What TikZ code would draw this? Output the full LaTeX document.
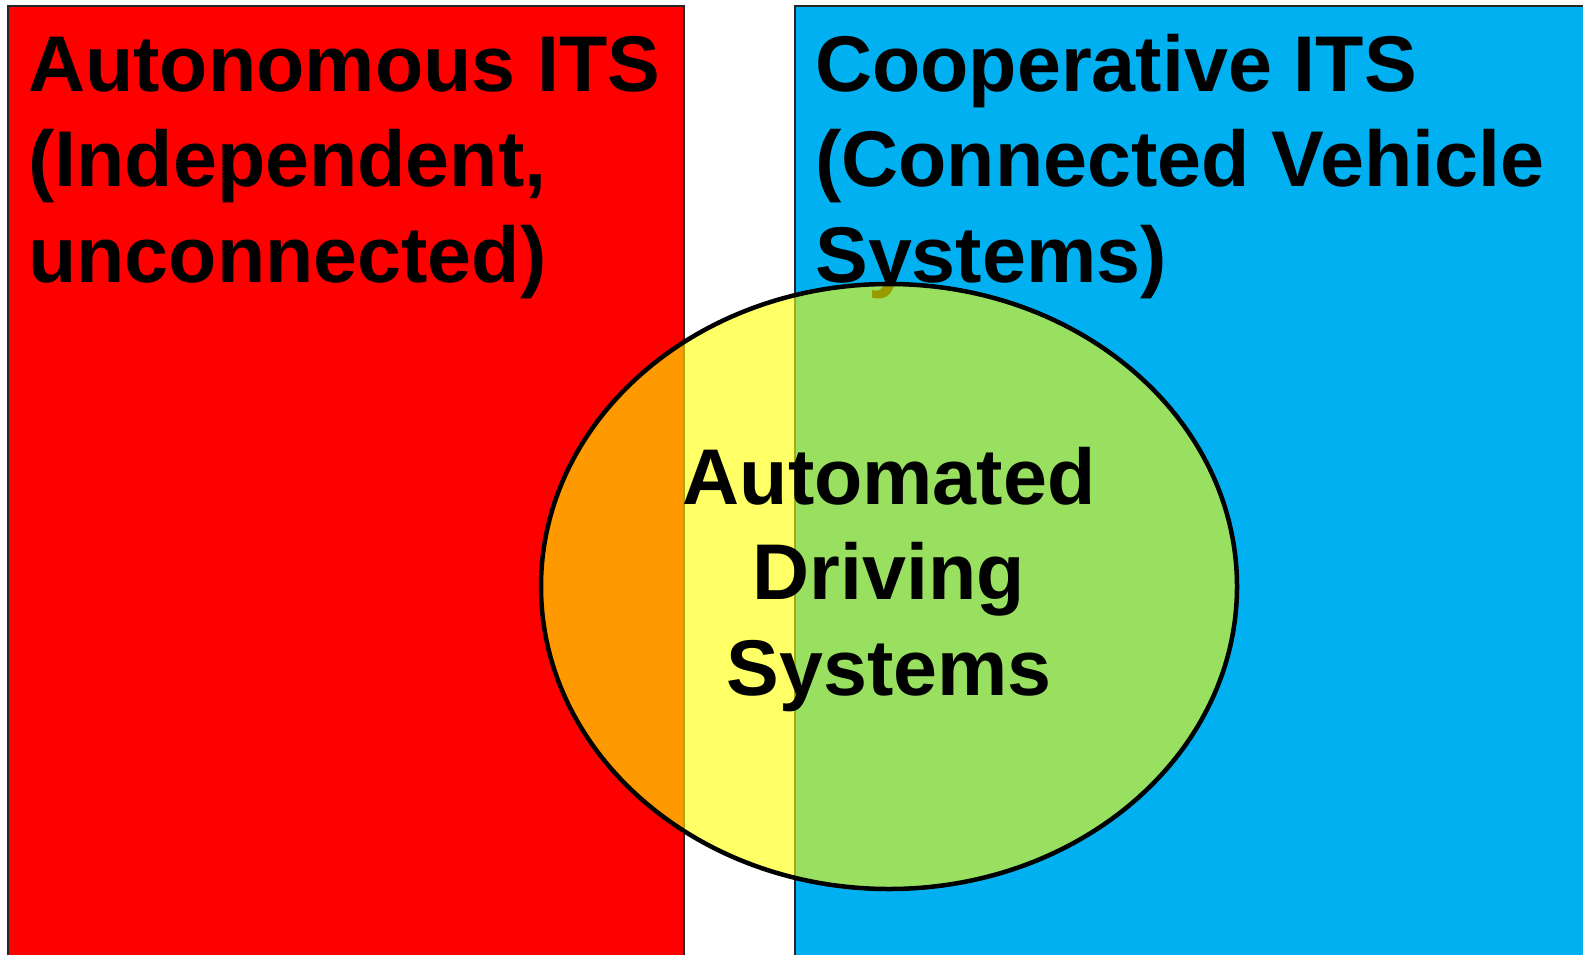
\documentclass[tikz,border=0pt]{standalone}
\usepackage{fontspec}
\setmainfont{Liberation Sans}
\definecolor{itsred}{HTML}{FF0000}
\definecolor{itsblue}{HTML}{00B0F0}
\definecolor{adsyellow}{HTML}{FFFF00}

\begin{document}
\begin{tikzpicture}[x=0.025cm, y=-0.025cm]
        \def\bigfont{\fontsize{56.2}{67.6}\selectfont\bfseries}
        \tikzstyle{area} = [draw=black!85, line width=1.1pt]
        \tikzstyle{title} = [anchor=base west, inner sep=0pt, align=left, font=\bigfont]
        \tikzstyle{overlap} = [draw=black, line width=3.2pt, fill=adsyellow, fill opacity=0.6]
        % Fix the picture size to the reference and cut what sticks out
        \useasboundingbox (0,0) rectangle (1583,954);
        \clip (0,0) rectangle (1583,954);
        % Draw the two big areas, running past the bottom edge
        \draw[area, fill=itsred] (8,6) rectangle (684,980);
        \draw[area, fill=itsblue] (795,6) rectangle (1620,980);
        % Draw the titles of the two areas (placed by their last line)
        \node[title] (autonomous) at (28,282) {Autonomous ITS\\(Independent,\\unconnected)};
        \node[title] (cooperative) at (815,282) {Cooperative ITS\\(Connected Vehicle\\Systems)};
        % Draw the half-transparent ellipse over both areas
        \draw[overlap] (889,586.5) ellipse [x radius=348, y radius=302.5];
        % Draw the label in the middle of the ellipse
        \node[anchor=base, inner sep=0pt, align=center, font=\bigfont] (automated) at (889,695) {Automated\\Driving\\Systems};
    \end{tikzpicture}
\end{document}
